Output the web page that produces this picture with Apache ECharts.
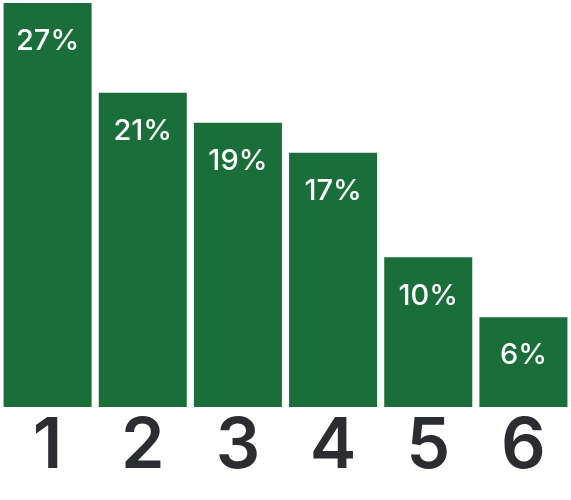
<!DOCTYPE html>
<html><head><meta charset="utf-8">
<script src="https://cdn.jsdelivr.net/npm/echarts@6/dist/echarts.min.js"></script>
<style>html,body{margin:0;padding:0;background:#fff}#c{width:571px;height:500px}</style>
</head><body><div id="c"></div>
<script>
const categories = ['1','2','3','4','5','6'];
const values = [27, 21, 19, 17, 10, 6];
const chart = echarts.init(document.getElementById('c'));
chart.setOption({
  animation: false,
  grid: { left: 0, right: 0, top: 3, bottom: 93 },
  xAxis: {
    type: 'category', data: categories,
    axisLine: { show: false }, axisTick: { show: false },
    axisLabel: { color: '#2b2d33', fontSize: 70, fontWeight: 600, fontFamily: 'Inter', margin: 5 }
  },
  yAxis: { type: 'value', min: 0, max: 27, show: false, splitLine: { show: false } },
  series: [{
    type: 'bar', data: values, barCategoryGap: '7.5%',
    itemStyle: { color: '#1a6e3a' },
    label: { show: true, position: 'insideTop', distance: 24, color: '#fff', fontSize: 29, fontWeight: 500, fontFamily: 'Inter', formatter: '{c}%' }
  }]
});
</script></body></html>
